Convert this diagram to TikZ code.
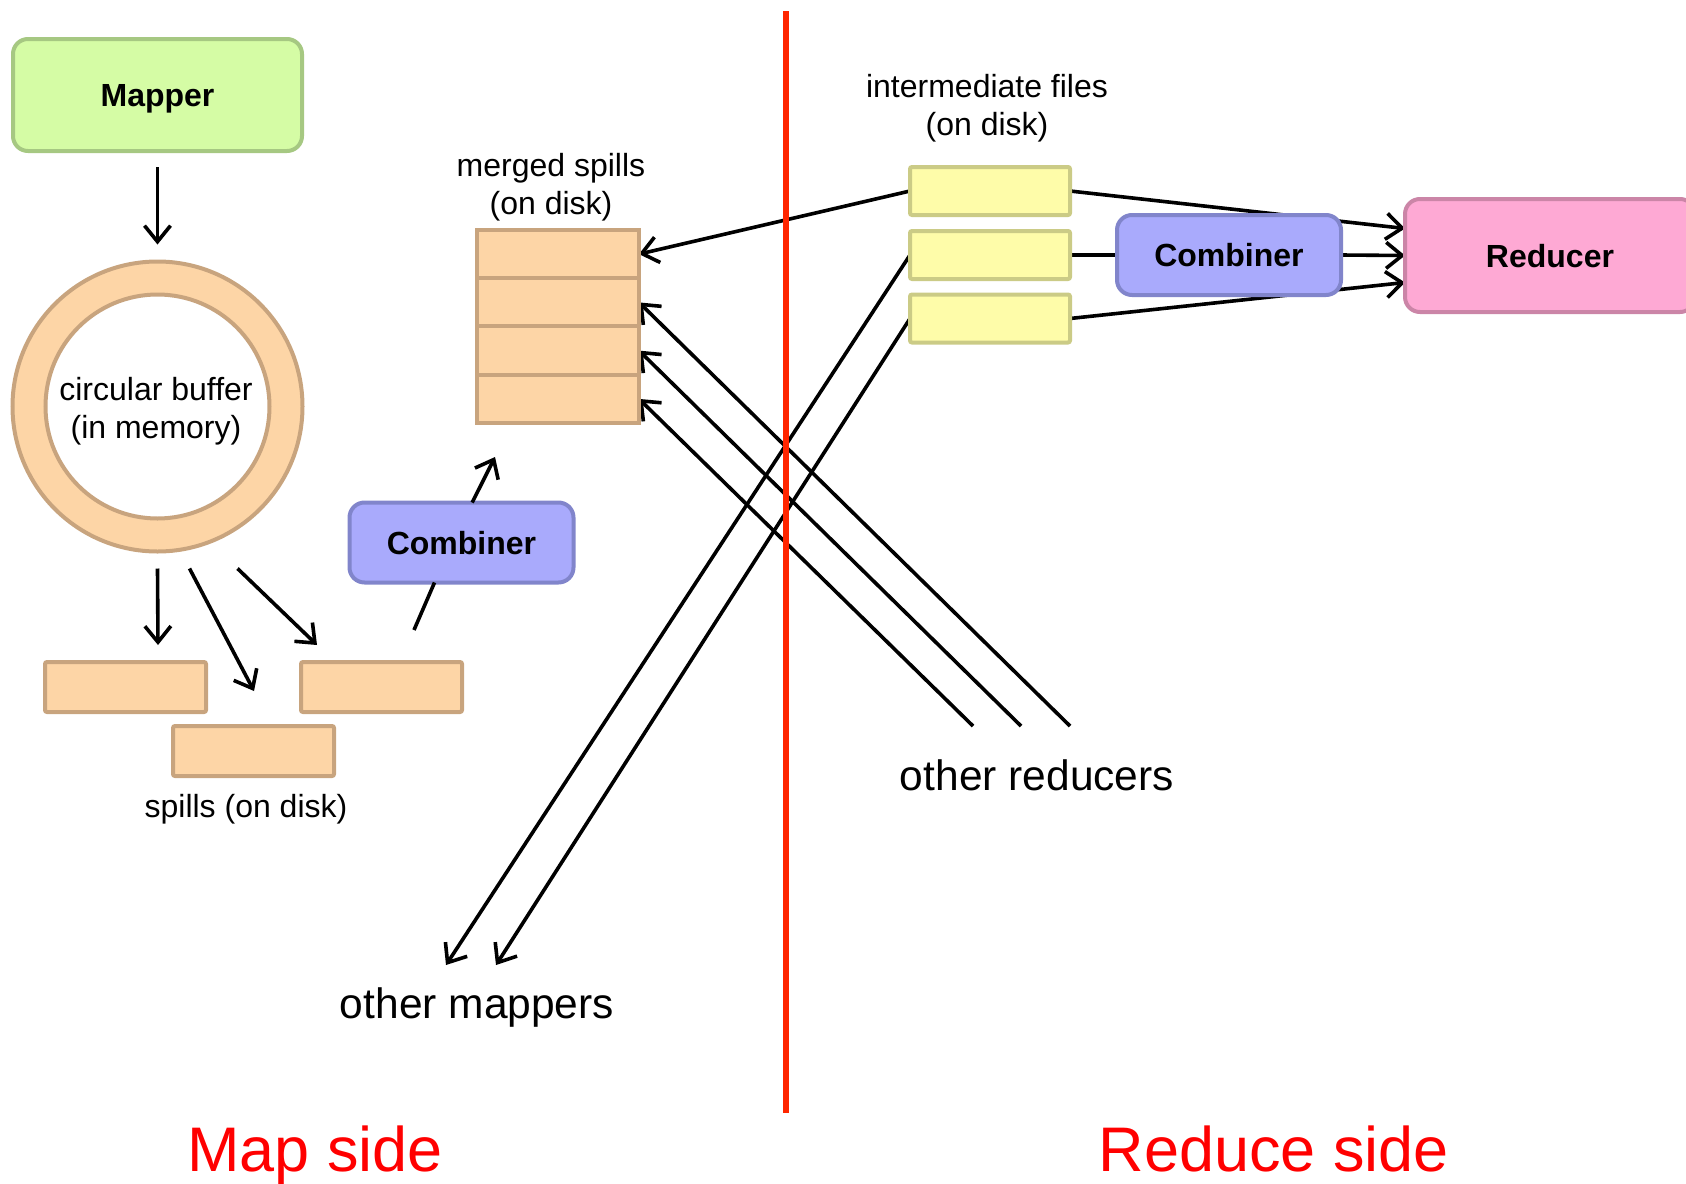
\documentclass[tikz,border=0pt]{standalone}
\usepackage{fontspec}
\setmainfont{Liberation Sans}
\usetikzlibrary{arrows.meta,backgrounds}

\definecolor{mapfill}{RGB}{213,252,165}
\definecolor{mapdraw}{RGB}{166,200,130}
\definecolor{peachfill}{RGB}{253,213,166}
\definecolor{peachdraw}{RGB}{200,164,126}
\definecolor{combfill}{RGB}{169,170,252}
\definecolor{combdraw}{RGB}{129,133,203}
\definecolor{yelfill}{RGB}{254,252,169}
\definecolor{yeldraw}{RGB}{203,203,134}
\definecolor{redfill}{RGB}{254,169,212}
\definecolor{reddraw}{RGB}{203,133,167}
\definecolor{divider}{RGB}{255,38,0}

\begin{document}
\begin{tikzpicture}[x=0.5pt,y=-0.5pt,
  every node/.style={inner sep=0pt, outer sep=0pt},
  lbl/.style={font=\fontsize{16}{18.8}\selectfont, align=center},
  big/.style={font=\fontsize{21.25}{25}\selectfont},
  side/.style={font=\fontsize{31.5}{36}\selectfont, text=red, anchor=base},
  proc/.style={draw, line width=2pt, rounded corners=7.5pt, text depth=0pt, font=\bfseries\fontsize{16}{19}\selectfont},
  mapbox/.style={proc, fill=mapfill, draw=mapdraw, minimum width=144.5pt, minimum height=56pt},
  combbox/.style={proc, fill=combfill, draw=combdraw, minimum width=112pt, minimum height=40pt},
  redbox/.style={proc, fill=redfill, draw=reddraw, minimum width=145pt, minimum height=56.5pt},
  spill/.style={draw=peachdraw, fill=peachfill, line width=2pt, rounded corners=1pt, minimum width=80.5pt, minimum height=25pt},
  mrow/.style={draw=peachdraw, fill=peachfill, line width=2pt, minimum width=81pt, minimum height=24.125pt},
  ifile/.style={draw=yeldraw, fill=yelfill, line width=2pt, rounded corners=1pt, minimum width=80pt, minimum height=24pt},
  conn/.style={line width=1.8pt, black},
  >={Straight Barb[length=8pt,width=13pt]}
]
\useasboundingbox (0,0) rectangle (1686,1183);
\clip (0,0) rectangle (1686,1183);

% map side: mapper, circular buffer, spills
\node[mapbox] (mapper) at (157.5,95) {Mapper};
\node[circle, draw=peachdraw, fill=peachfill, line width=2pt, minimum size=145pt] (ring) at (157.5,406.5) {};
\node[circle, draw=peachdraw, fill=white, line width=2pt, minimum size=112pt] (buf) at (157.5,406.5) {};
\node[lbl] (buft) at (156,411) {circular buffer\\(in memory)};

\node[spill] (spA) at (125.5,687) {};
\node[spill] (spB) at (253.5,751) {};
\node[spill] (spC) at (381.5,687) {};
\node[lbl] (spl) at (246,809) {spills (on disk)};

\node[combbox] (cl) at (461.5,542.5) {Combiner};

% merged spills stack
\node[mrow] (m1) at (558,254.1) {};
\node[mrow] (m2) at (558,302.4) {};
\node[mrow] (m3) at (558,350.6) {};
\node[mrow] (m4) at (558,398.9) {};
\node[lbl] (ml) at (551,187) {merged spills\\(on disk)};

% reduce side: intermediate files, combiner, reducer
\node[ifile] (y1) at (990,191) {};
\node[ifile] (y2) at (990,255) {};
\node[ifile] (y3) at (990,318.5) {};
\node[lbl] (il) at (987,108) {intermediate files\\(on disk)};

\node[combbox] (cr) at (1229,255) {Combiner};
\node[redbox] (red) at (1550,255.5) {Reducer};

% free ends
\coordinate (s1) at (158,645);
\coordinate (s2) at (254,691);
\coordinate (s3) at (317,645);
\coordinate (cs) at (414,630);
\coordinate (cm) at (495,457);
\coordinate (or1) at (973,726);
\coordinate (or2) at (1021,726);
\coordinate (or3) at (1070,726);
\coordinate (om1) at (446,965);
\coordinate (om2) at (496,965);

\node[big] (oml) at (477,1007) {other mappers};
\node[big] (orl) at (1037,775) {other reducers};

\node[side] (mside) at (315,1171) {Map side};
\node[side] (rside) at (1274,1171) {Reduce side};

% connectors
\draw[conn,->] ([yshift=-8pt]mapper.south) -- ([yshift=8.5pt]ring.north);
\draw[conn,->] ([yshift=-8.5pt]ring.south) -- (s1);
\draw[conn,->] ([xshift=16pt,yshift=-8.5pt]ring.south) -- (s2);
\draw[conn,->] ([xshift=40pt,yshift=-8.5pt]ring.south) -- (s3);
\draw[conn] (cs) -- (cl.-124);
\draw[conn,->] (cl.75) -- (cm);

\begin{pgfonlayer}{background}
  \draw[conn,->] (y1.west) -- (m1.east);
  \draw[conn,->] (or3) -- (m2.east);
  \draw[conn,->] (or2) -- (m3.east);
  \draw[conn,->] (or1) -- (m4.east);
  \draw[conn,->] (y2.west) -- (om1);
  \draw[conn,->] (y3.west) -- (om2);
  \draw[conn,->] (y1.east) -- ([yshift=13.5pt]red.west);
  \draw[conn] (y2.east) -- (cr.west);
  \draw[conn,->] (cr.east) -- (red.west);
  \draw[conn,->] (y3.east) -- ([yshift=-13.5pt]red.west);
\end{pgfonlayer}

% divider between the two sides
\coordinate (dtop) at (786,11);
\coordinate (dbot) at (786,1113);
\draw[line width=3.25pt, divider] (dtop) -- (dbot);
\end{tikzpicture}
\end{document}
